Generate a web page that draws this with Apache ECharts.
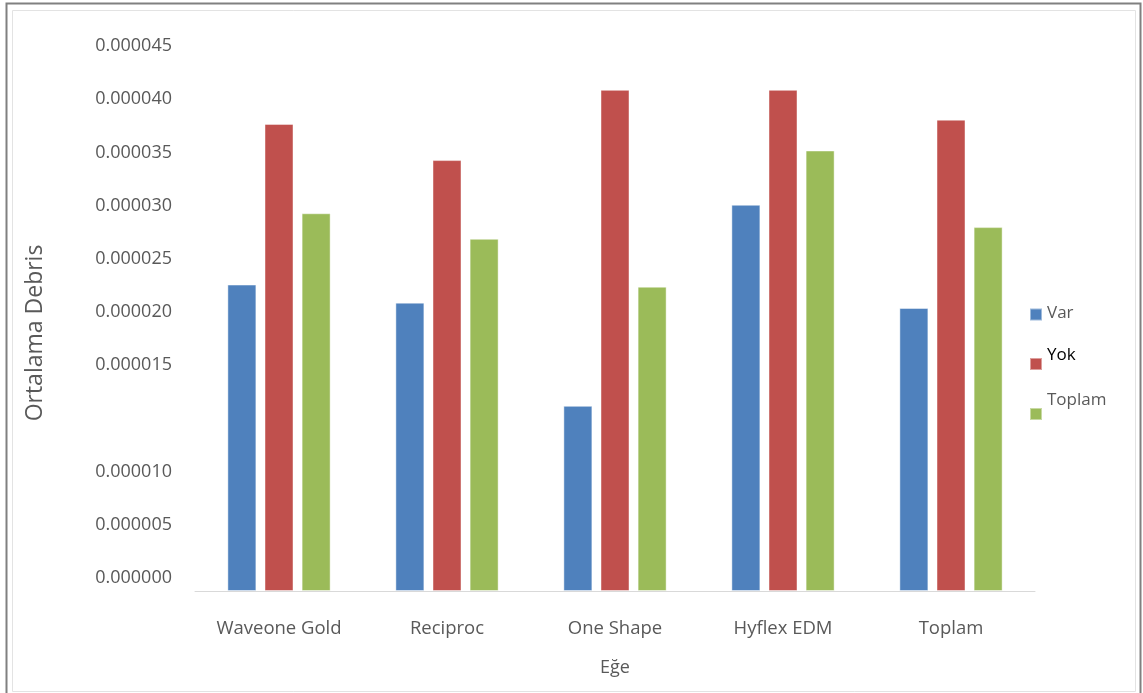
<!DOCTYPE html>
<html>
<head>
<meta charset="utf-8">
<script src="https://cdn.jsdelivr.net/npm/echarts@6/dist/echarts.min.js"></script>
<style>
  html, body { margin: 0; padding: 0; background: #fff; }
  #chart { width: 1143px; height: 693px; }
</style>
</head>
<body>
<div id="chart"></div>
<script>
var categories = ['Waveone Gold', 'Reciproc', 'One Shape', 'Hyflex EDM', 'Toplam']
var seriesNames = ['Var', 'Yok', 'Toplam']
var varValues = [0.0000238, 0.0000221, 0.0000137, 0.0000313, 0.0000216]
var yokValues = [0.0000389, 0.0000355, 0.0000421, 0.0000421, 0.0000393]
var toplamValues = [0.0000305, 0.0000281, 0.0000236, 0.0000364, 0.0000292]
var yTicks = [0, 0.000005, 0.00001, 0.000015, 0.00002, 0.000025, 0.00003, 0.000035, 0.00004, 0.000045]

var colors = ['#4F81BD', '#C0504D', '#9BBB59']
var gray = '#595959'
var font = 'Open Sans'

var chart = echarts.init(document.getElementById('chart'))

// icon is a square sitting at the bottom of a taller box, so the text
// ends up above the marker like in the original legend
function legendFor (name, top, textColor, boxHeight) {
  var y0 = boxHeight - 12
  return {
    data: [name],
    orient: 'vertical',
    left: 1024,
    top: top,
    itemWidth: 12,
    itemHeight: boxHeight,
    itemGap: 0,
    icon: 'path://M0,0L0,0M0,' + y0 + 'L12,' + y0 + 'L12,' + boxHeight + 'L0,' + boxHeight + 'Z',
    selectedMode: false,
    textStyle: { color: textColor, fontFamily: font, fontSize: 17 }
  }
}

var option = {
  animation: false,
  backgroundColor: '#fff',
  color: colors,
  grid: { left: 195, right: 108, top: 59, bottom: 102 },
  legend: [
    legendFor('Var', 300, gray, 14),
    legendFor('Yok', 334, '#000', 30),
    legendFor('Toplam', 374, gray, 40)
  ],
  xAxis: {
    type: 'category',
    data: categories,
    name: 'Eğe',
    nameLocation: 'middle',
    nameGap: 68,
    nameTextStyle: { color: gray, fontFamily: font, fontSize: 18 },
    axisLine: { lineStyle: { color: '#d9d9d9', width: 1 } },
    axisTick: { show: false },
    axisLabel: { color: gray, fontFamily: font, fontSize: 18.5, margin: 28 }
  },
  yAxis: {
    type: 'value',
    min: 0,
    max: 0.000045,
    interval: 0.000005,
    name: 'Ortalama Debris',
    nameLocation: 'middle',
    nameGap: 148,
    nameTextStyle: { color: gray, fontFamily: font, fontSize: 23, padding: [0, 16, 0, 0] },
    breaks: [{ start: 0.00001, end: 0.000015, gap: 0.00001 }],
    breakArea: { show: false, itemStyle: { opacity: 0, borderWidth: 0 } },
    axisLine: { show: false },
    axisTick: { show: false },
    splitLine: { show: false },
    axisLabel: {
      color: gray,
      fontFamily: font,
      fontSize: 18,
      margin: 23,
      verticalAlign: 'bottom',
      lineHeight: 26,
      customValues: yTicks,
      formatter: function (v) { return v.toFixed(6) }
    }
  },
  series: [
    { name: seriesNames[0], type: 'bar', data: varValues },
    { name: seriesNames[1], type: 'bar', data: yokValues },
    { name: seriesNames[2], type: 'bar', data: toplamValues }
  ].map(function (s) {
    s.barWidth = 29
    s.barGap = '28%'
    s.itemStyle = { borderColor: 'rgba(255,255,255,0.45)', borderWidth: 1 }
    return s
  }),
  graphic: [
    { type: 'rect', shape: { x: 6.5, y: 3.5, width: 1134, height: 700 }, style: { fill: null, stroke: '#808080', lineWidth: 2 }, silent: true },
    { type: 'rect', shape: { x: 12.5, y: 10.5, width: 1123, height: 681 }, style: { fill: null, stroke: '#e3e3e3', lineWidth: 1 }, silent: true }
  ]
}

chart.setOption(option)
</script>
</body>
</html>
